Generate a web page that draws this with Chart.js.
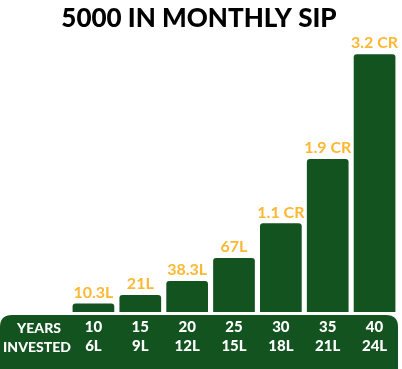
<!DOCTYPE html>
<html lang="en">
<head>
<meta charset="UTF-8">
<title>5000 in Monthly SIP</title>
<script src="https://cdn.jsdelivr.net/npm/chart.js"></script>
<style>
  html, body { margin: 0; padding: 0; background: #fff; }
  canvas { display: block; }
</style>
</head>
<body>
<canvas id="sipChart" width="402" height="369"></canvas>
<script>
// data
const titleText = '5000 IN MONTHLY SIP';
const years = ['10', '15', '20', '25', '30', '35', '40'];
const invested = ['6L', '9L', '12L', '15L', '18L', '21L', '24L'];
const corpusLakh = [10.3, 21, 38.3, 67, 110, 190, 320];
const corpusLabels = ['10.3L', '21L', '38.3L', '67L', '1.1 CR', '1.9 CR', '3.2 CR'];
const rowTitles = ['YEARS', 'INVESTED'];

const green = '#12531f';
const orange = '#fdb733';

// green band behind the x axis + value labels + row titles
const sipDecor = {
    id: 'sipDecor',
    beforeDraw(chart) {
        const ctx = chart.ctx;
        const top = chart.chartArea.bottom + 3;
        const r = 12;
        const left = 0, right = 398, bottom = chart.height;
        ctx.save();
        ctx.fillStyle = green;
        ctx.beginPath();
        ctx.moveTo(left, bottom);
        ctx.lineTo(left, top + r);
        ctx.quadraticCurveTo(left, top, left + r, top);
        ctx.lineTo(right - r, top);
        ctx.quadraticCurveTo(right, top, right, top + r);
        ctx.lineTo(right, bottom);
        ctx.closePath();
        ctx.fill();
        ctx.restore();
    },
    afterDatasetsDraw(chart) {
        const ctx = chart.ctx;
        const meta = chart.getDatasetMeta(0);
        ctx.save();
        ctx.fillStyle = orange;
        ctx.font = 'bold 16px Lato';
        ctx.textAlign = 'center';
        ctx.textBaseline = 'bottom';
        meta.data.forEach((bar, i) => {
            ctx.fillText(corpusLabels[i], bar.x, bar.y - 3);
        });
        ctx.restore();
    },
    afterDraw(chart) {
        const ctx = chart.ctx;
        ctx.save();
        ctx.fillStyle = '#fff';
        ctx.font = '900 14px Lato';
        ctx.textAlign = 'center';
        ctx.textBaseline = 'middle';
        ctx.fillText(rowTitles[0], 39, 328);
        ctx.fillText(rowTitles[1], 37, 347);
        ctx.restore();
    }
};

new Chart(document.getElementById('sipChart'), {
    type: 'bar',
    data: {
        labels: years.map((y, i) => [y, invested[i]]),
        datasets: [{
            data: corpusLakh,
            backgroundColor: green,
            borderRadius: 3,
            borderSkipped: 'bottom',
            categoryPercentage: 1,
            barPercentage: 0.89
        }]
    },
    options: {
        responsive: false,
        animation: false,
        devicePixelRatio: 1,
        layout: { padding: { left: 0, right: 4, top: 0, bottom: 7 } },
        plugins: {
            legend: { display: false },
            tooltip: { enabled: false },
            title: {
                display: true,
                text: titleText,
                color: '#000',
                font: { family: 'Lato', size: 26, weight: '900' },
                padding: { top: 3, bottom: 4 }
            }
        },
        scales: {
            x: {
                grid: { display: false, drawTicks: false },
                border: { display: false },
                ticks: {
                    color: '#fff',
                    font: { family: 'Lato', size: 15, weight: '900', lineHeight: 1.27 },
                    padding: 6,
                    maxRotation: 0,
                    autoSkip: false
                }
            },
            y: {
                min: 0,
                max: 340,
                grid: { display: false },
                border: { display: false },
                ticks: { display: false },
                // keep the left strip free for the row titles
                afterFit(scale) { scale.width = 70; }
            }
        }
    },
    plugins: [sipDecor]
});
</script>
</body>
</html>
